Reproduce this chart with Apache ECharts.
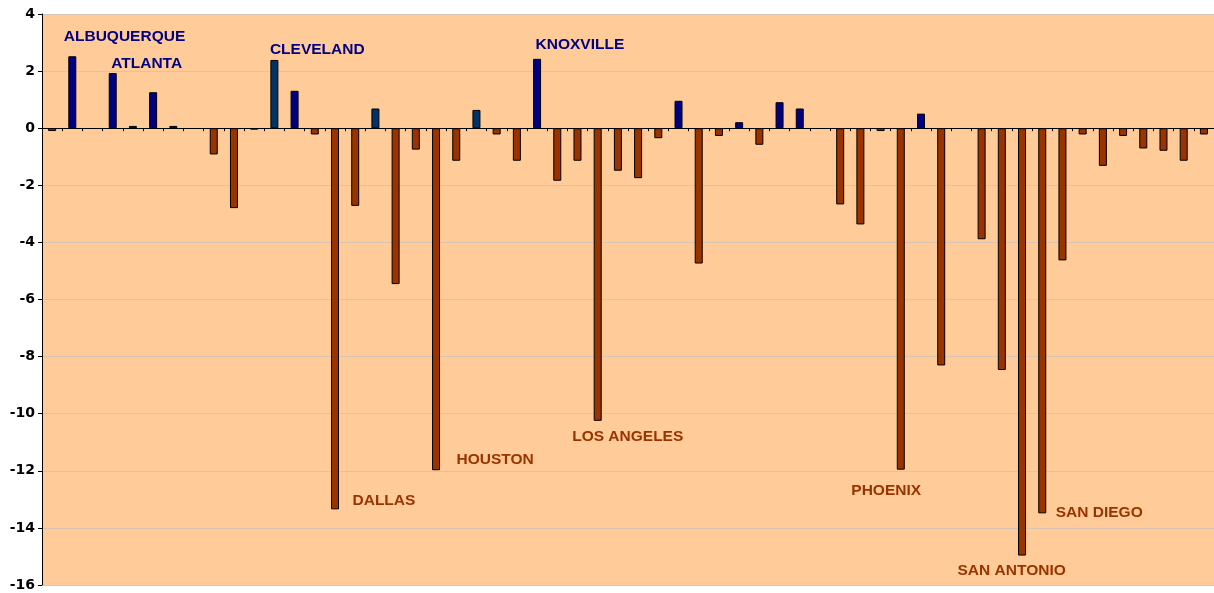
<!DOCTYPE html>
<html>
<head>
<meta charset="UTF-8">
<script src="https://cdn.jsdelivr.net/npm/echarts@6/dist/echarts.min.js"></script>
<style>
  body { margin: 0; background: #fff; }
  #chart { width: 1214px; height: 593px; }
</style>
</head>
<body>
<div id="chart"></div>
<script>
// 58 cities, only the labelled ones are readable in the picture
const cities = [
  'city 1', 'ALBUQUERQUE', 'city 3', 'ATLANTA', 'city 5', 'city 6', 'city 7', 'city 8', 'city 9', 'city 10',
  'city 11', 'CLEVELAND', 'city 13', 'city 14', 'DALLAS', 'city 16', 'city 17', 'city 18', 'city 19', 'HOUSTON',
  'city 21', 'city 22', 'city 23', 'city 24', 'KNOXVILLE', 'city 26', 'city 27', 'LOS ANGELES', 'city 29', 'city 30',
  'city 31', 'city 32', 'city 33', 'city 34', 'city 35', 'city 36', 'city 37', 'city 38', 'city 39', 'city 40',
  'city 41', 'city 42', 'PHOENIX', 'city 44', 'city 45', 'city 46', 'city 47', 'city 48', 'SAN ANTONIO', 'SAN DIEGO',
  'city 51', 'city 52', 'city 53', 'city 54', 'city 55', 'city 56', 'city 57', 'city 58'
]

// null = empty cell, no bar drawn
const values = [
  -0.1, 2.52, null, 1.93, 0.08, 1.26, 0.08, null, -0.92, -2.8,
  -0.05, 2.39, 1.31, -0.22, -13.35, -2.72, 0.69, -5.46, -0.75, -11.98,
  -1.14, 0.64, -0.22, -1.14, 2.43, -1.84, -1.14, -10.25, -1.49, -1.75,
  -0.35, 0.96, -4.74, -0.27, 0.21, -0.58, 0.91, 0.69, null, -2.67,
  -3.37, -0.1, -11.96, 0.51, -8.31, null, -3.89, -8.47, -14.97, -13.49,
  -4.63, -0.22, -1.32, -0.27, -0.71, -0.79, -1.14, -0.22
]

// cities with a name label on the chart
const labelled = ['ALBUQUERQUE', 'ATLANTA', 'CLEVELAND', 'KNOXVILLE', 'DALLAS', 'HOUSTON',
  'LOS ANGELES', 'PHOENIX', 'SAN ANTONIO', 'SAN DIEGO']

// hand placed label offsets (like in the original sheet)
const labelOffsets = {
  'ALBUQUERQUE': [-9, -20],
  'ATLANTA': [-2, -9],
  'CLEVELAND': [-5, -10],
  'KNOXVILLE': [-2, -14],
  'DALLAS': [17, -9],
  'HOUSTON': [20, -11],
  'LOS ANGELES': [-26, 16],
  'PHOENIX': [-50, 21],
  'SAN ANTONIO': [-65, 15],
  'SAN DIEGO': [13, -1]
}

// bars drawn in the darker teal instead of navy
const tealBars = [11, 16, 21]

const labelData = labelled.map(name => {
  const i = cities.indexOf(name)
  const v = values[i]
  return {
    value: [i, v],
    name: name,
    label: {
      offset: labelOffsets[name],
      color: v < 0 ? '#993300' : '#000080'
    }
  }
})

const chart = echarts.init(document.getElementById('chart'))
chart.setOption({
  animation: false,
  grid: {
    left: 42, width: 1176, top: 14, bottom: 8,
    show: true, backgroundColor: '#FFCC99', borderWidth: 0
  },
  xAxis: {
    type: 'category',
    data: cities,
    axisLine: { onZero: true, lineStyle: { color: '#000', width: 1 } },
    axisTick: { show: true, interval: 0, length: 3, lineStyle: { color: '#000' } },
    axisLabel: { show: false, interval: 0 },
    splitLine: { show: false }
  },
  yAxis: {
    type: 'value',
    min: -16, max: 4, interval: 2,
    axisLine: { show: true, lineStyle: { color: '#000', width: 1 } },
    axisTick: { show: true, length: 4, lineStyle: { color: '#000' } },
    axisLabel: {
      color: '#000', fontFamily: 'DejaVu Sans', fontWeight: 'bold', fontSize: 14, margin: 7
    },
    splitLine: { lineStyle: { color: '#d6c4b4', width: 1 } }
  },
  series: [
    {
      type: 'bar',
      data: values,
      barWidth: 8,
      itemStyle: {
        color: p => tealBars.includes(p.dataIndex) ? '#003366' : (p.value < 0 ? '#993300' : '#000080'),
        borderColor: '#000',
        borderWidth: 1
      }
    },
    {
      type: 'scatter',
      data: labelData,
      symbolSize: 1,
      itemStyle: { color: 'transparent' },
      silent: true,
      z: 5,
      label: {
        show: true,
        position: 'right',
        distance: 0,
        formatter: '{b}',
        fontFamily: 'Liberation Sans',
        fontWeight: 'bold',
        fontSize: 15.5,
        opacity: 1,
        textBorderWidth: 0
      },
      emphasis: { disabled: true }
    }
  ]
})
</script>
</body>
</html>
